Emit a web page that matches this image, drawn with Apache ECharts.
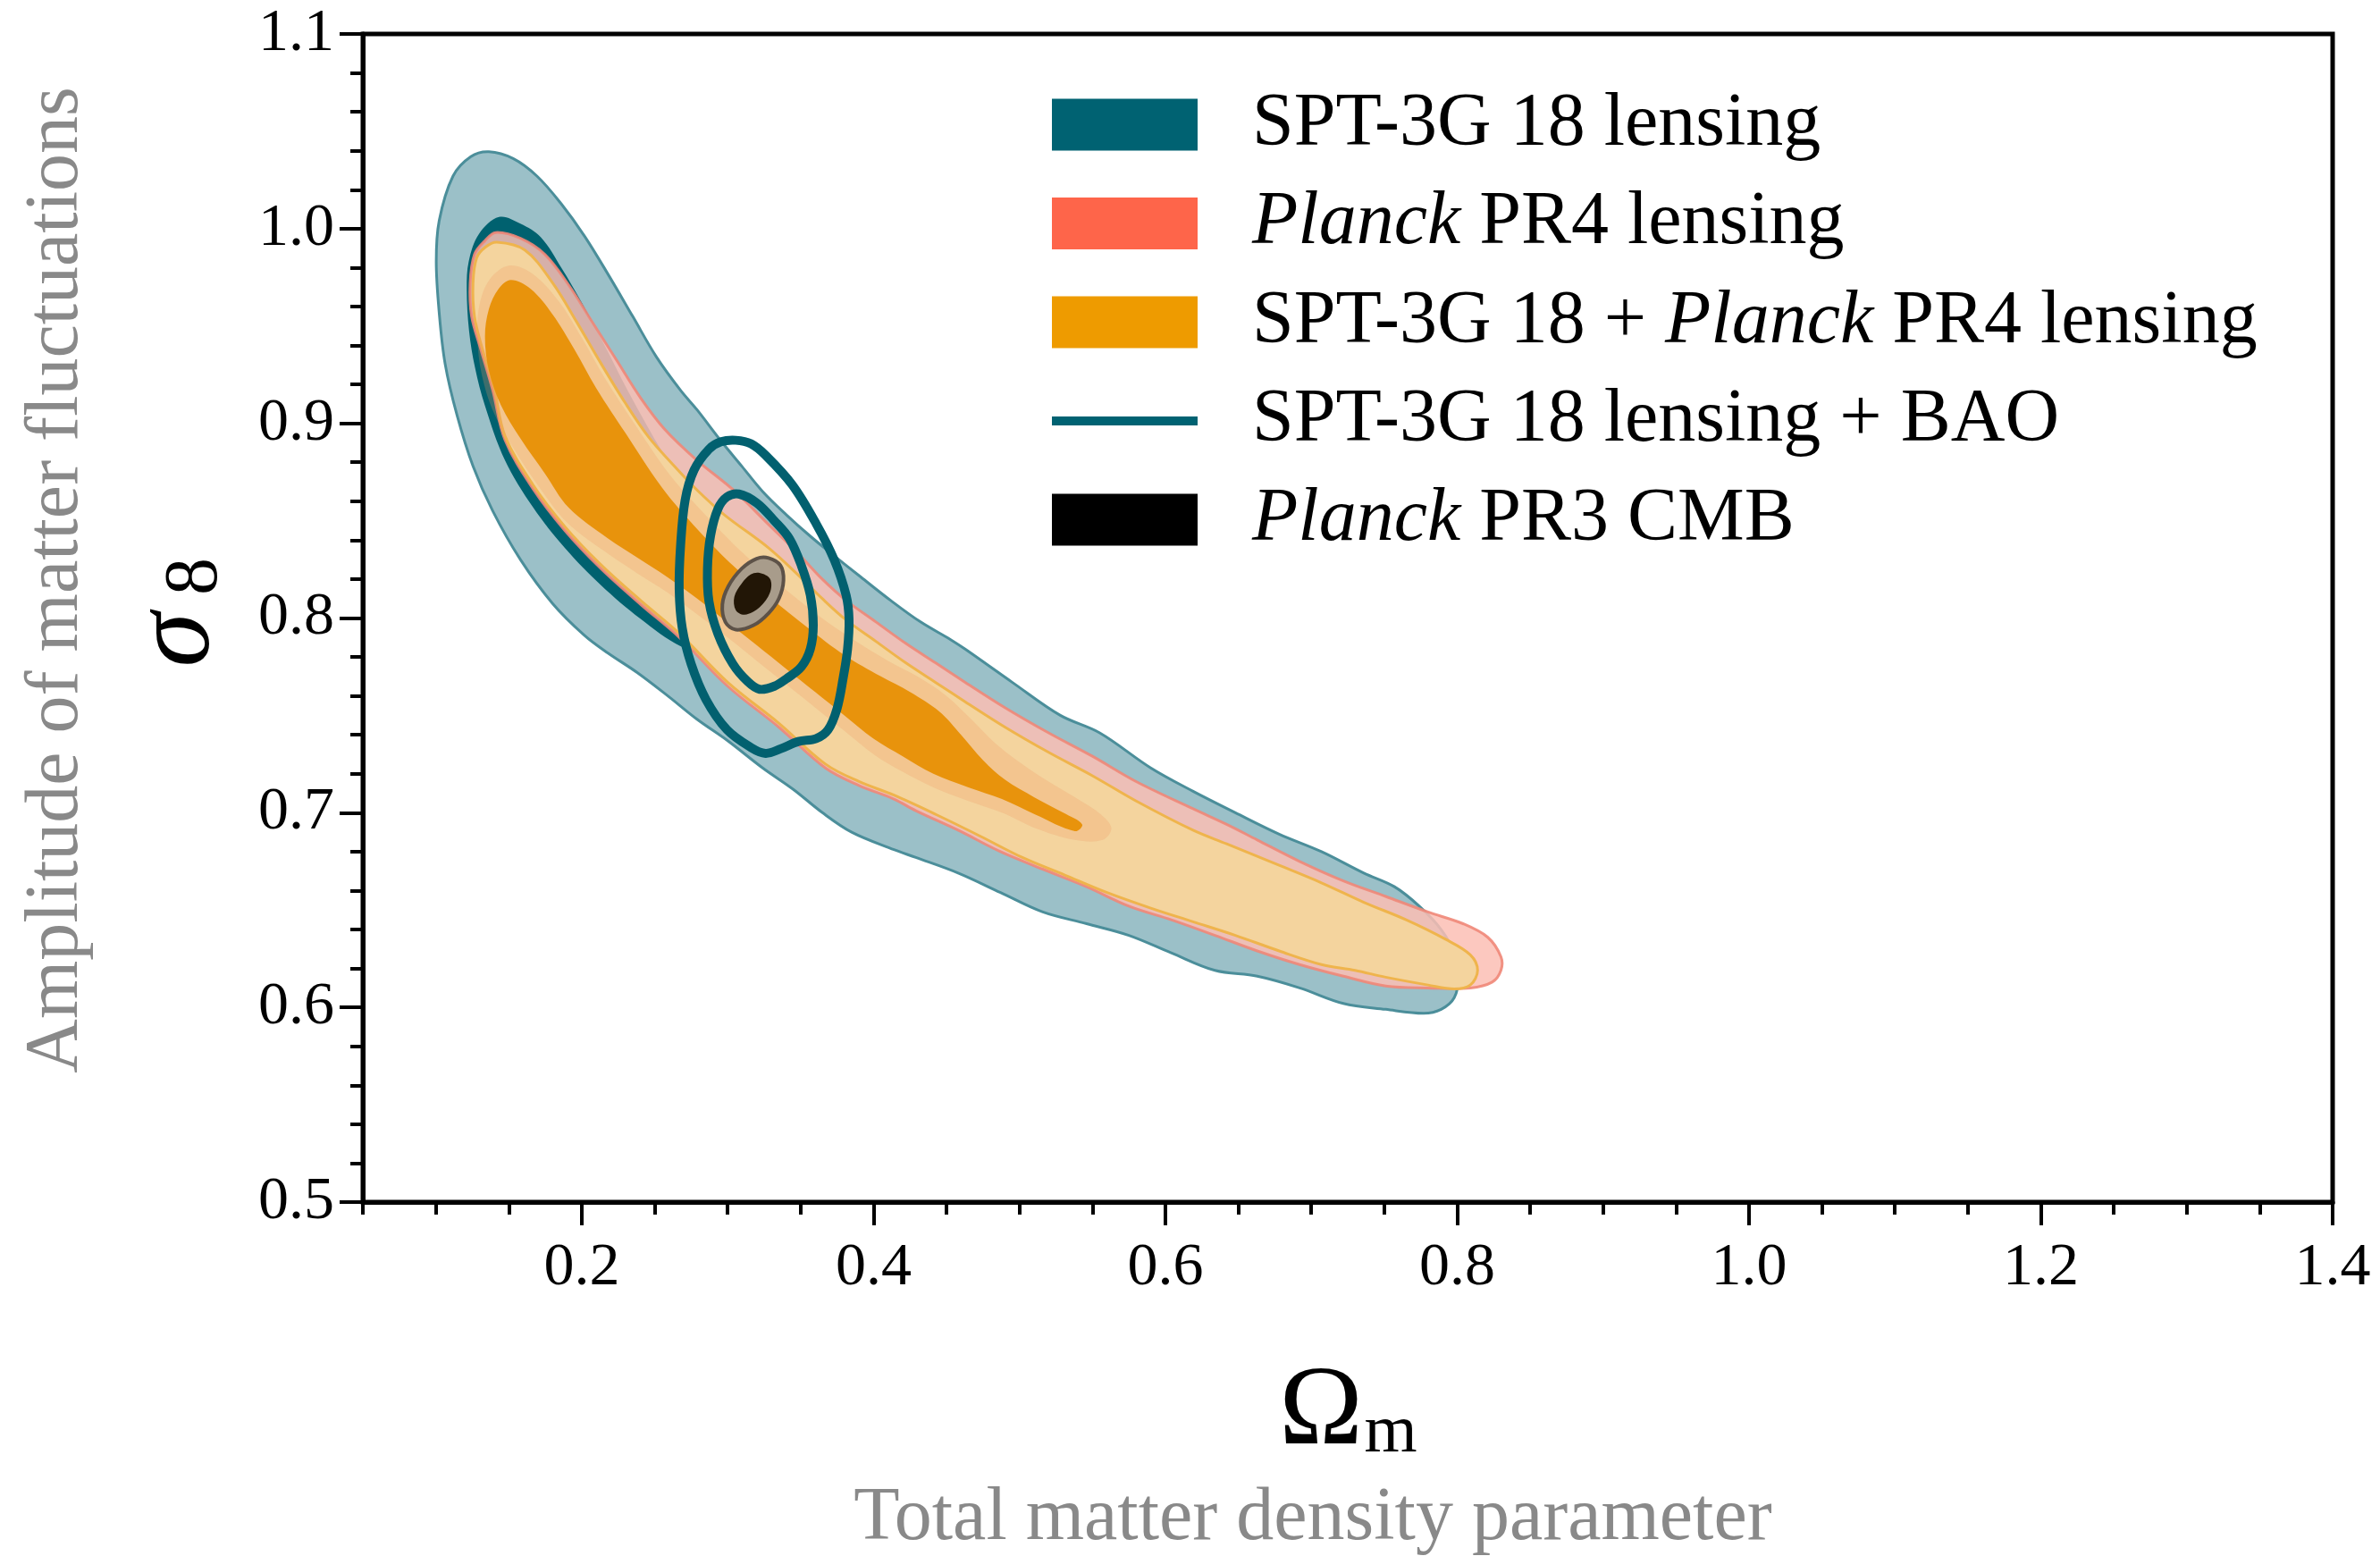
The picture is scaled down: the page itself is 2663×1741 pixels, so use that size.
<!DOCTYPE html>
<html>
<head>
<meta charset="utf-8">
<script src="https://cdn.jsdelivr.net/npm/echarts@6/dist/echarts.min.js"></script>
<style>
  html, body { margin: 0; padding: 0; background: #ffffff; }
  #chart { width: 2663px; height: 1741px; }
</style>
</head>
<body>
<div id="chart"></div>
<script>
// Axis ticks
const xMajorTicks = [0.2, 0.4, 0.6, 0.8, 1.0, 1.2, 1.4];
const yRange = [0.5, 1.1];
const xRange = [0.05, 1.4];

// Legend entries
const seriesNames = [
  'SPT-3G 18 lensing',
  'Planck PR4 lensing',
  'SPT-3G 18 + Planck PR4 lensing',
  'SPT-3G 18 lensing + BAO',
  'Planck PR3 CMB'
];

// Contours in (Omega_m, sigma_8)
// SPT-3G 18 lensing, 95% region
const spt95 = [
  [0.1364,1.0395],[0.153,1.036],[0.1693,1.027],[0.1857,1.013],[0.2021,0.996],[0.2185,0.976],
  [0.2349,0.955],[0.2513,0.934],[0.2677,0.917],[0.279,0.907],[0.2954,0.891],[0.3097,0.878],
  [0.324,0.865],[0.3403,0.853],[0.3567,0.842],[0.373,0.832],[0.3914,0.821],[0.4118,0.809],
  [0.4322,0.798],[0.4526,0.789],[0.4628,0.784],[0.495,0.767],[0.528,0.750],[0.555,0.741],
  [0.590,0.723],[0.619,0.711],[0.648,0.700],[0.678,0.689],[0.707,0.680],[0.736,0.669],
  [0.757,0.662],[0.774,0.652],[0.789,0.640],[0.798,0.628],[0.801,0.616],[0.798,0.605],
  [0.789,0.599],[0.777,0.597],[0.751,0.599],[0.722,0.602],[0.692,0.610],[0.663,0.616],
  [0.634,0.619],[0.604,0.628],[0.575,0.637],[0.546,0.643],[0.516,0.649],[0.487,0.659],
  [0.458,0.669],[0.429,0.677],[0.414,0.681],[0.385,0.690],[0.365,0.700],[0.345,0.712],
  [0.324,0.723],[0.300,0.737],[0.279,0.748],[0.259,0.760],[0.238,0.772],[0.218,0.782],
  [0.202,0.791],[0.180,0.8075],[0.158,0.830],[0.139,0.855],[0.1255,0.878],[0.1146,0.904],
  [0.1064,0.9305],[0.1023,0.957],[0.1003,0.983],[0.1023,1.004],[0.1118,1.027],[0.124,1.037]
];
// SPT-3G 18 lensing, 68% region
const spt68 = [
  [0.1433,1.006],[0.158,1.0026],[0.172,0.9956],[0.186,0.980],[0.200,0.962],[0.215,0.941],
  [0.235,0.912],[0.260,0.880],[0.300,0.840],[0.350,0.800],[0.400,0.775],[0.450,0.755],
  [0.490,0.742],[0.502,0.735],[0.485,0.732],[0.440,0.742],[0.390,0.755],[0.340,0.768],
  [0.300,0.777],[0.2677,0.7855],[0.2404,0.7995],[0.213,0.817],[0.1884,0.836],[0.1665,0.857],
  [0.1474,0.881],[0.1337,0.909],[0.1269,0.9285],[0.1228,0.9475],[0.1212,0.9692],[0.1226,0.9833],
  [0.1296,0.9973]
];
// Planck PR4 lensing, 95% region
const pr4_95 = [
  [0.141,0.998],[0.158,0.995],[0.1747,0.9868],[0.1911,0.971],[0.2076,0.9516],[0.224,0.9323],
  [0.2404,0.913],[0.2568,0.897],[0.279,0.881],[0.3036,0.866],[0.3281,0.848],[0.3485,0.833],
  [0.3648,0.820],[0.3812,0.809],[0.4016,0.798],[0.422,0.787],[0.4424,0.777],[0.4628,0.767],
  [0.490,0.754],[0.520,0.741],[0.550,0.729],[0.580,0.716],[0.619,0.702],[0.642,0.694],
  [0.663,0.686],[0.692,0.675],[0.722,0.665],[0.751,0.657],[0.780,0.649],[0.804,0.643],
  [0.821,0.636],[0.830,0.626],[0.830,0.619],[0.824,0.613],[0.809,0.610],[0.780,0.610],
  [0.751,0.611],[0.722,0.616],[0.692,0.622],[0.663,0.629],[0.634,0.637],[0.604,0.645],
  [0.575,0.652],[0.546,0.662],[0.516,0.671],[0.487,0.680],[0.458,0.691],[0.429,0.701],
  [0.414,0.707],[0.390,0.714],[0.367,0.723],[0.335,0.744],[0.300,0.765],[0.267,0.790],
  [0.2404,0.807],[0.213,0.8255],[0.1884,0.845],[0.1665,0.8665],[0.1474,0.8915],[0.139,0.917],
  [0.131,0.9376],[0.1245,0.955],[0.1235,0.972],[0.1265,0.9868],[0.1337,0.9938]
];
// Planck PR4 lensing, 68% region
const pr4_68 = [
  [0.150,0.981],[0.166,0.977],[0.184,0.963],[0.200,0.944],[0.216,0.923],[0.236,0.900],
  [0.261,0.873],[0.286,0.852],[0.311,0.833],[0.336,0.817],[0.361,0.802],[0.386,0.789],
  [0.410,0.778],[0.430,0.770],[0.450,0.760],[0.467,0.748],[0.483,0.736],[0.500,0.726],
  [0.520,0.716],[0.540,0.707],[0.556,0.699],[0.563,0.692],[0.557,0.686],[0.538,0.686],
  [0.511,0.692],[0.488,0.700],[0.465,0.706],[0.441,0.713],[0.420,0.721],[0.400,0.730],
  [0.380,0.742],[0.360,0.754],[0.340,0.766],[0.320,0.778],[0.300,0.790],[0.279,0.802],
  [0.259,0.813],[0.238,0.823],[0.218,0.833],[0.190,0.849],[0.172,0.866],[0.155,0.885],
  [0.140,0.905],[0.1315,0.925],[0.1285,0.944],[0.130,0.961],[0.137,0.974]
];
// SPT-3G 18 + Planck PR4 lensing, 95% region
const comb95 = [
  [0.1419,0.993],[0.161,0.989],[0.1802,0.972],[0.1966,0.952],[0.213,0.931],[0.2294,0.911],
  [0.2458,0.893],[0.2623,0.879],[0.2787,0.866],[0.2978,0.853],[0.3281,0.836],[0.3485,0.822],
  [0.3648,0.810],[0.3812,0.799],[0.4016,0.788],[0.422,0.777],[0.4424,0.767],[0.4628,0.757],
  [0.490,0.744],[0.520,0.731],[0.550,0.719],[0.580,0.706],[0.619,0.691],[0.642,0.684],
  [0.678,0.673],[0.707,0.664],[0.736,0.654],[0.765,0.645],[0.792,0.635],[0.809,0.627],
  [0.814,0.619],[0.809,0.6115],[0.798,0.6095],[0.780,0.6115],[0.751,0.6155],[0.730,0.619],
  [0.707,0.622],[0.678,0.629],[0.648,0.637],[0.619,0.644],[0.590,0.651],[0.560,0.659],
  [0.531,0.668],[0.502,0.677],[0.473,0.688],[0.443,0.699],[0.414,0.709],[0.390,0.716],
  [0.367,0.725],[0.335,0.746],[0.300,0.767],[0.267,0.792],[0.2404,0.809],[0.213,0.8275],
  [0.1884,0.847],[0.1665,0.8685],[0.1474,0.8935],[0.140,0.918],[0.132,0.938],[0.1265,0.955],
  [0.1255,0.972],[0.128,0.985],[0.134,0.9905]
];
// SPT-3G 18 + Planck PR4 lensing, 68% region
const comb68 = [
  [0.1515,0.9736],[0.165,0.969],[0.180,0.956],[0.195,0.938],[0.210,0.918],[0.230,0.895],
  [0.255,0.867],[0.280,0.845],[0.305,0.826],[0.330,0.810],[0.355,0.795],[0.380,0.781],
  [0.405,0.770],[0.425,0.762],[0.445,0.752],[0.460,0.740],[0.475,0.727],[0.490,0.717],
  [0.510,0.708],[0.530,0.700],[0.543,0.694],[0.538,0.6905],[0.511,0.699],[0.488,0.707],
  [0.465,0.713],[0.441,0.720],[0.420,0.729],[0.400,0.738],[0.380,0.750],[0.360,0.762],
  [0.340,0.774],[0.320,0.786],[0.2995,0.798],[0.2791,0.810],[0.2587,0.821],[0.2382,0.831],
  [0.2178,0.841],[0.1911,0.8567],[0.1747,0.8743],[0.1583,0.8919],[0.1446,0.9094],[0.1364,0.927],
  [0.1337,0.9446],[0.1364,0.9587],[0.143,0.969]
];
// SPT-3G 18 lensing + BAO, 95% and 68% contours
const bao95 = [
  [0.3056,0.8913],[0.316,0.8895],[0.326,0.8836],[0.3444,0.8683],[0.3607,0.8484],[0.373,0.830],
  [0.3812,0.8117],[0.3832,0.7994],[0.3822,0.7841],[0.3791,0.7688],[0.375,0.7535],[0.3689,0.7427],
  [0.3607,0.7381],[0.3485,0.7366],[0.3362,0.7328],[0.326,0.7305],[0.3158,0.7336],[0.2995,0.7427],
  [0.2852,0.7581],[0.275,0.7764],[0.2689,0.7948],[0.2668,0.8147],[0.2678,0.8377],[0.2709,0.8607],
  [0.277,0.876],[0.2872,0.8867],[0.2954,0.8905]
];
const bao68 = [
  [0.3077,0.8637],[0.3199,0.8591],[0.3321,0.8499],[0.3424,0.8407],[0.3505,0.827],[0.3567,0.8117],
  [0.3587,0.7963],[0.3567,0.7841],[0.3505,0.7749],[0.3403,0.7688],[0.3321,0.765],[0.3219,0.7634],
  [0.3138,0.7673],[0.3036,0.7764],[0.2934,0.7918],[0.2872,0.8086],[0.2862,0.8254],[0.2883,0.8423],
  [0.2934,0.8561],[0.2995,0.8622]
];
// Planck PR3 CMB, 95% and 68% regions
const cmb95 = [
  [0.3199,0.8305],[0.3281,0.8308],[0.3362,0.827],[0.3383,0.8193],[0.3352,0.8101],[0.3281,0.8025],
  [0.3178,0.7963],[0.3056,0.794],[0.2985,0.7979],[0.2964,0.807],[0.3005,0.8163],[0.3097,0.8254]
];
const cmb68 = [
  [0.3158,0.8224],[0.3219,0.8232],[0.3291,0.8201],[0.3291,0.8132],[0.3219,0.8055],[0.3117,0.8017],
  [0.3056,0.804],[0.3046,0.8109],[0.3097,0.8178]
];

const SERIF = '"Liberation Serif", "DejaVu Serif", serif';

// One closed, smoothed region per series, projected through the cartesian axes
function region(name, pts, style) {
  return {
    type: 'custom',
    name: name,
    coordinateSystem: 'cartesian2d',
    data: pts,
    encode: { x: 0, y: 1 },
    silent: true,
    animation: false,
    renderItem: function (params, api) {
      if (params.dataIndex !== 0) return null;
      const points = pts.map(function (p) { return api.coord(p); });
      return {
        type: 'polygon',
        shape: { points: points, smooth: 0.35 },
        style: Object.assign({}, style)
      };
    }
  };
}

const series = [
  region(seriesNames[0], spt95, { fill: '#9bc0c8', stroke: '#4b8e9a', lineWidth: 3 }),
  region(seriesNames[0], spt68, { fill: '#00616f', stroke: null }),
  region(seriesNames[1], pr4_95, { fill: 'rgba(252,190,180,0.85)', stroke: 'rgba(240,135,120,0.9)', lineWidth: 3 }),
  region(seriesNames[2], comb95, { fill: '#f4d49e', stroke: '#efb44c', lineWidth: 3 }),
  region(seriesNames[1], pr4_68, { fill: 'rgba(238,150,100,0.25)', stroke: null }),
  region(seriesNames[2], comb68, { fill: '#e8930c', stroke: null }),
  region(seriesNames[3], bao95, { fill: 'none', stroke: '#02606f', lineWidth: 10 }),
  region(seriesNames[3], bao68, { fill: 'none', stroke: '#02606f', lineWidth: 10 }),
  region(seriesNames[4], cmb95, { fill: '#a89c8b', stroke: '#5d5248', lineWidth: 4 }),
  region(seriesNames[4], cmb68, { fill: '#221606', stroke: null })
];

const tickLine = { color: '#000', width: 4 };

const option = {
  backgroundColor: '#ffffff',
  animation: false,
  grid: {
    left: 406, right: 53, top: 38, bottom: 396,
    show: true, borderColor: '#000', borderWidth: 5, backgroundColor: 'transparent'
  },
  xAxis: [
    {
      type: 'value', min: xRange[0], max: xRange[1], interval: 0.05,
      axisLine: { show: true, onZero: false, lineStyle: { color: '#000', width: 5 } },
      axisTick: { show: true, length: 14, lineStyle: tickLine },
      axisLabel: {
        customValues: xMajorTicks,
        formatter: function (v) { return v.toFixed(1); },
        margin: 40, fontSize: 68, fontFamily: SERIF, color: '#000'
      },
      splitLine: { show: false }
    },
    {
      type: 'value', min: xRange[0], max: xRange[1], position: 'bottom',
      axisLine: { show: false },
      axisTick: { show: true, customValues: xMajorTicks, length: 26, lineStyle: tickLine },
      axisLabel: { show: false },
      splitLine: { show: false }
    }
  ],
  yAxis: {
    type: 'value', min: yRange[0], max: yRange[1], interval: 0.1,
    axisLine: { show: true, onZero: false, lineStyle: { color: '#000', width: 5 } },
    axisTick: { show: true, length: 26, lineStyle: tickLine },
    minorTick: { show: true, splitNumber: 5, length: 14, lineStyle: tickLine },
    axisLabel: {
      formatter: function (v) { return v.toFixed(1); },
      margin: 32, fontSize: 68, fontFamily: SERIF, color: '#000'
    },
    splitLine: { show: false },
    minorSplitLine: { show: false }
  },
  legend: {
    left: 1177, top: 97.5, orient: 'vertical', padding: 0,
    itemWidth: 163, itemHeight: 58, itemGap: 26.5,
    selectedMode: false,
    data: [
      { name: seriesNames[0], icon: 'rect', itemStyle: { color: '#006272', borderWidth: 0 } },
      { name: seriesNames[1], icon: 'rect', itemStyle: { color: '#fe654a', borderWidth: 0 } },
      { name: seriesNames[2], icon: 'rect', itemStyle: { color: '#ee9b00', borderWidth: 0 } },
      { name: seriesNames[3], icon: 'path://M0,0H100V6.2H0Z', itemStyle: { color: '#006272', borderWidth: 0 } },
      { name: seriesNames[4], icon: 'rect', itemStyle: { color: '#000000', borderWidth: 0 } }
    ],
    formatter: function (name) { return name.replace('Planck', '{i|Planck}'); },
    textStyle: {
      fontSize: 84, fontFamily: SERIF, color: '#000', lineHeight: 58,
      padding: [0, 0, 0, 56],
      rich: { i: { fontSize: 84, fontFamily: SERIF, fontStyle: 'italic', color: '#000', lineHeight: 58 } }
    }
  },
  graphic: [
    { type: 'text', x: 64, y: 649, rotation: Math.PI / 2, silent: true,
      style: { text: 'Amplitude of matter fluctuations', fill: '#898989', fontSize: 84, fontFamily: SERIF, align: 'center', verticalAlign: 'middle' } },
    { type: 'text', x: 200, y: 716, rotation: Math.PI / 2, silent: true,
      style: { text: 'σ', fill: '#000', fontSize: 124, fontStyle: 'italic', fontFamily: SERIF, align: 'center', verticalAlign: 'middle' } },
    { type: 'text', x: 220, y: 645, rotation: Math.PI / 2, silent: true,
      style: { text: '8', fill: '#000', fontSize: 84, fontFamily: SERIF, align: 'center', verticalAlign: 'middle' } },
    { type: 'text', x: 1478, y: 1582, silent: true,
      style: { text: 'Ω', fill: '#000', fontSize: 126, fontFamily: SERIF, align: 'center', verticalAlign: 'middle' } },
    { type: 'text', x: 1556, y: 1604, silent: true,
      style: { text: 'm', fill: '#000', fontSize: 76, fontFamily: SERIF, align: 'center', verticalAlign: 'middle' } },
    { type: 'text', x: 1469, y: 1700, silent: true,
      style: { text: 'Total matter density parameter', fill: '#898989', fontSize: 84, fontFamily: SERIF, align: 'center', verticalAlign: 'middle' } }
  ],
  series: series
};

const chart = echarts.init(document.getElementById('chart'), null, { renderer: 'canvas' });
chart.setOption(option);
</script>
</body>
</html>
